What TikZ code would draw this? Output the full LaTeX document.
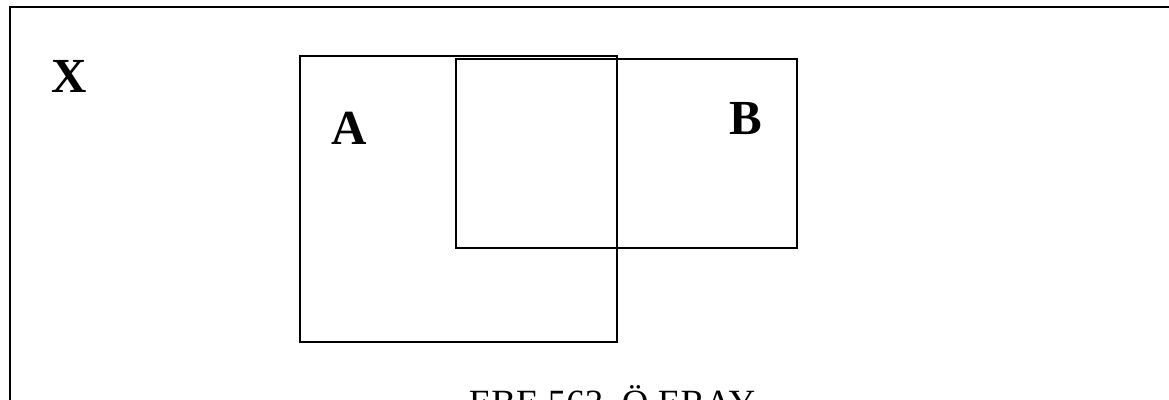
\documentclass[tikz,border=0pt]{standalone}
\usepackage{fontspec}
\setmainfont{Liberation Serif}
\begin{document}
\begin{tikzpicture}[x=1pt,y=-1pt,
  setbox/.style={draw=black,line width=1.8pt},
  frame/.style={draw=black,line width=2.6pt},
  setlabel/.style={font=\fontsize{49}{55}\selectfont\bfseries,inner sep=0pt,anchor=base},
  caption/.style={font=\fontsize{37}{42}\selectfont,inner sep=0pt,anchor=base}]
\useasboundingbox (0,0) rectangle (1169,399);
\draw[frame] (10,420) -- (10,7) -- (1180,7);
\draw[setbox] (300,56) rectangle (617,342);
\draw[setbox] (456,59) rectangle (797,248);
\node[setlabel] (x) at (69,92) {X};
\node[setlabel] (a) at (349,144) {A};
\node[setlabel] (b) at (746,134) {B};
\node[caption] (cap) at (612,415) {EBE 563, Ö.ERAY};
\end{tikzpicture}
\end{document}
